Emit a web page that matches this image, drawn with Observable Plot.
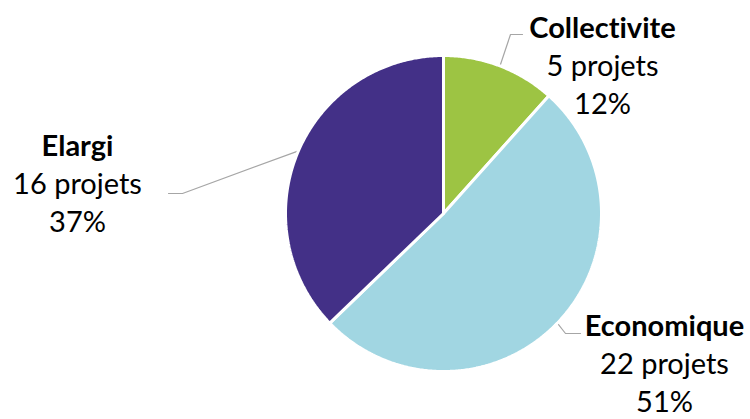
<!DOCTYPE html>
<html>
<head>
<meta charset="utf-8">
<script src="https://cdn.jsdelivr.net/npm/d3@7"></script>
<script src="https://cdn.jsdelivr.net/npm/@observablehq/plot@0.6"></script>
<style>
  html, body { margin: 0; padding: 0; background: #fff; }
  #chart { width: 750px; height: 419px; }
  #chart text { font-variant-ligatures: none; }
</style>
</head>
<body>
<div id="chart"></div>
<script>
// ---- data ----
const categories = ["Collectivite", "Economique", "Elargi"];
const projets = [5, 22, 16];
const colors = ["#9dc443", "#a1d6e2", "#433087"];

// ---- layout (pixels) ----
const W = 750, H = 419;
const cx = 443, cy = 213, R = 158;
const fontFamily = "Lato, 'Open Sans', sans-serif";
const fontSize = 29;
const lineGap = 38;
const labelAnchor = { // center x, baseline of first line
  Collectivite: [602, 37],
  Economique: [664, 335],
  Elargi: [77, 155]
};
const leaderBend = {
  Collectivite: [[510, 34], [522, 34]],
  Economique: [[565, 333], [580, 333]],
  Elargi: [[182, 193], [168, 193]]
};

const total = d3.sum(projets);
const pie = [];
let acc = 0;
categories.forEach((name, i) => {
  const a0 = acc / total * 2 * Math.PI;
  acc += projets[i];
  const a1 = acc / total * 2 * Math.PI;
  pie.push({name, value: projets[i], a0, a1, mid: (a0 + a1) / 2,
            pct: Math.round(projets[i] / total * 100)});
});
const pt = (a, r) => [cx + r * Math.sin(a), cy - r * Math.cos(a)];

// slice polygons
const slicePts = [];
pie.forEach(s => {
  const [x0, y0] = pt(0, 0);
  slicePts.push({name: s.name, x: x0, y: y0});
  const n = Math.max(2, Math.ceil((s.a1 - s.a0) / (Math.PI / 360)));
  for (let k = 0; k <= n; k++) {
    const a = s.a0 + (s.a1 - s.a0) * k / n;
    const [x, y] = pt(a, R);
    slicePts.push({name: s.name, x, y});
  }
  slicePts.push({name: s.name, x: x0, y: y0});
});

// leader lines
const leaders = [];
pie.forEach(s => {
  const [x, y] = pt(s.mid, R + 1);
  leaders.push({name: s.name, x, y});
  leaderBend[s.name].forEach(([bx, by]) => leaders.push({name: s.name, x: bx, y: by}));
});

// labels
const nameRows = pie.map(s => ({text: s.name, x: labelAnchor[s.name][0], y: labelAnchor[s.name][1]}));
const valueRows = [];
pie.forEach(s => {
  const [x, y] = labelAnchor[s.name];
  valueRows.push({text: `${s.value} projets`, x, y: y + lineGap});
  valueRows.push({text: `${s.pct}%`, x, y: y + 2 * lineGap});
});

const chart = Plot.plot({
  width: W, height: H,
  margin: 0,
  x: {domain: [0, W], range: [0, W], axis: null},
  y: {domain: [0, H], range: [0, H], axis: null},
  color: {domain: categories, range: colors},
  style: {background: "#fff"},
  marks: [
    Plot.line(leaders, {x: "x", y: "y", z: "name", stroke: "#a6a6a6", strokeWidth: 1.2}),
    Plot.line(slicePts, {x: "x", y: "y", z: "name", fill: "name", stroke: "white", strokeWidth: 3, strokeLinejoin: "miter"}),
    Plot.text(nameRows, {x: "x", y: "y", text: "text", lineAnchor: "bottom", textAnchor: "middle",
      fontFamily, fontSize, fontWeight: "bold", fill: "#000"}),
    Plot.text(valueRows, {x: "x", y: "y", text: "text", lineAnchor: "bottom", textAnchor: "middle",
      fontFamily, fontSize, fill: "#000"})
  ]
});
document.getElementById("chart").appendChild(chart);
</script>
</body>
</html>
